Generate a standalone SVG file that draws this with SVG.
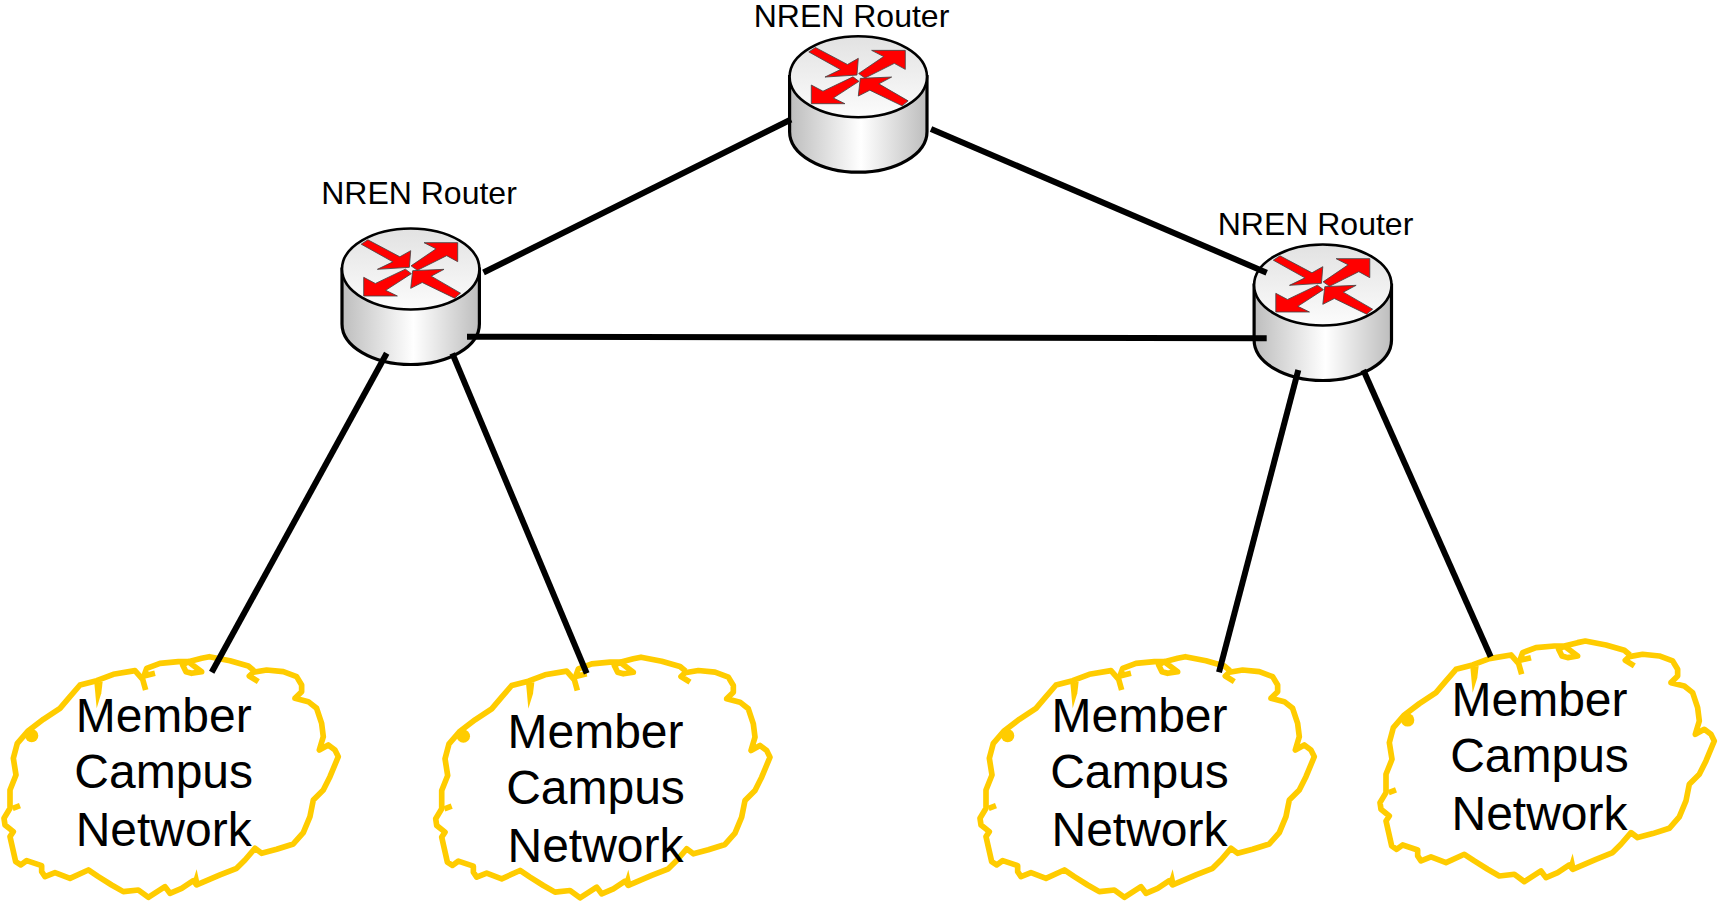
<svg xmlns="http://www.w3.org/2000/svg" xmlns:xlink="http://www.w3.org/1999/xlink" width="1719" height="904" viewBox="0 0 1719 904">
<style>
.lbl{font-family:"Liberation Sans",Arial,sans-serif;font-size:32px;fill:#000;text-anchor:middle}
.net{font-family:"Liberation Sans",Arial,sans-serif;font-size:48px;fill:#000;text-anchor:middle}
.link{stroke:#000;stroke-width:6;fill:none}
.outline{fill:none;stroke:#fc0;stroke-width:17;stroke-linejoin:round;stroke-linecap:butt}
.spur{fill:#fc0;stroke:none}
.arr{fill:#f00;stroke:#444;stroke-width:2.5;stroke-linejoin:miter}
</style>
<defs>
<linearGradient id="gt" x1="0" y1="0" x2="0" y2="1"><stop offset="0" stop-color="#e2e2e2"/><stop offset="1" stop-color="#fcfcfc"/></linearGradient>
<linearGradient id="gb" x1="0" y1="0" x2="1" y2="0"><stop offset="0" stop-color="#bdbdbd"/><stop offset="0.52" stop-color="#fff"/><stop offset="1" stop-color="#bdbdbd"/></linearGradient>
<g id="router">
<path d="M-68.7 0V55A68.7 40.5 0 0 0 68.7 55V0Z" fill="url(#gb)" stroke="#000" stroke-width="3.2"/>
<ellipse cx="0" cy="0" rx="68.7" ry="40.5" fill="url(#gt)" stroke="#000" stroke-width="2.6"/>
<g transform="scale(.3333) translate(-272 -177)">
<path class="arr" d="M123.500 102.600L143.500 89.400L239.500 140.400L272 122L268 172L172 178L218.500 155.600Z"/>
<path class="arr" d="M273 167.500L348 116.500L312 98L413 98L413 155L380 137L292 181Z"/>
<path class="arr" d="M256 177.500L274 191L197 241L232 258L131 258L131 202L166 220.500Z"/>
<path class="arr" d="M372 178L278 182L272 235L306.500 217.500L403.500 264.500L421.500 249.500L333.500 198.500Z"/>
</g>
</g>
<g id="cloud" transform="translate(0 640) scale(.3333)">
<path class="outline" d="M437 150L428 118L405 92L340 103L290 122L240 135L208 172L180 205L130 238L85 272L52 310L40 355L48 405L30 450L30 505L12 535L15 555L40 575L30 590L38 625L47 665L62 675L80 662L125 677L125 695L135 710L165 698L210 715L265 690L295 710L335 735L370 755L415 750L445 772L495 740L510 760L545 745L580 722L590 735L660 705L710 685L735 660L765 625L785 640L830 628L880 612L910 578L930 530L940 480L970 450L990 410L1015 350L1005 330L985 315L958 330L970 290L965 250L950 205L925 185L885 175L905 155L905 135L890 110L850 95L800 90L760 97L748 108L775 125"/>
<path class="outline" d="M762 92L745 78L690 62L628 50L605 55L565 65L548 75L558 95L575 100L605 95L565 65L535 65L480 70L440 85L432 108L465 100"/>
<path class="outline" d="M60 497L38 505"/>
<circle class="spur" cx="95" cy="287" r="20"/>
<path class="spur" d="M283 128L308 125L304 160L290 205Z"/>
<path class="spur" d="M578 725L590 688L600 735Z"/>
</g>
</defs>

<g id="cloud-1"><use xlink:href="#cloud" href="#cloud"/></g>
<g id="cloud-2"><use xlink:href="#cloud" href="#cloud" transform="translate(431.7 .5)"/></g>
<g id="cloud-3"><use xlink:href="#cloud" href="#cloud" transform="translate(976 0)"/></g>
<g id="cloud-4"><use xlink:href="#cloud" href="#cloud" transform="translate(1376 -15.7)"/></g>

<g id="router-a"><use xlink:href="#router" href="#router" transform="translate(410.7 269)"/></g>
<g id="router-b"><use xlink:href="#router" href="#router" transform="translate(858.3 76.7)"/></g>
<g id="router-c"><use xlink:href="#router" href="#router" transform="translate(1322.8 285)"/></g>

<g id="connectors">
<line class="link" x1="483.5" y1="272.5" x2="791" y2="119.5"/>
<line class="link" x1="931" y1="129" x2="1266.7" y2="272.7"/>
<line class="link" x1="467" y1="336.7" x2="1266.7" y2="338.3"/>
<line class="link" x1="386.7" y1="353.3" x2="211.7" y2="672.3"/>
<line class="link" x1="452.3" y1="353.3" x2="586.7" y2="673.3"/>
<line class="link" x1="1298.3" y1="370" x2="1219" y2="672.3"/>
<line class="link" x1="1363.3" y1="370" x2="1490.7" y2="656.7"/>
</g>

<g id="labels">
<text class="lbl" x="851.5" y="26.7">NREN Router</text>
<text class="lbl" x="419" y="204">NREN Router</text>
<text class="lbl" x="1315.5" y="234.8">NREN Router</text>
<text class="net" x="163.7" y="731.5">Member</text><text class="net" x="163.7" y="788">Campus</text><text class="net" x="163.7" y="845.5">Network</text>
<text class="net" x="595.5" y="747.5">Member</text><text class="net" x="595.5" y="804">Campus</text><text class="net" x="595.5" y="861.5">Network</text>
<text class="net" x="1139.5" y="731.5">Member</text><text class="net" x="1139.5" y="788">Campus</text><text class="net" x="1139.5" y="845.5">Network</text>
<text class="net" x="1539.5" y="715.5">Member</text><text class="net" x="1539.5" y="772">Campus</text><text class="net" x="1539.5" y="829.5">Network</text>
</g>
</svg>
